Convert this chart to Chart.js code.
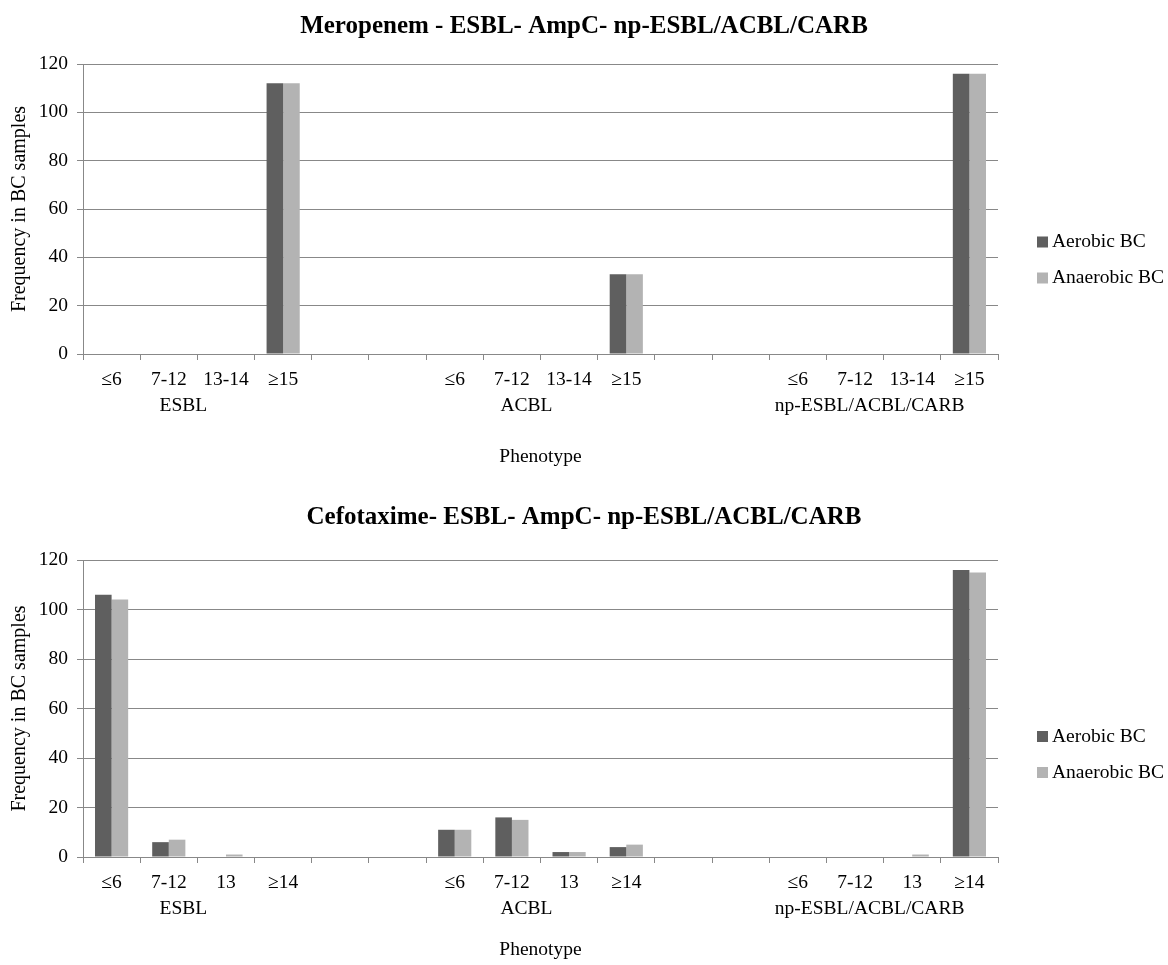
<!DOCTYPE html>
<html>
<head>
<meta charset="utf-8">
<script src="https://cdn.jsdelivr.net/npm/chart.js@4.4.1/dist/chart.umd.min.js"></script>
<style>
  html, body { margin: 0; padding: 0; background: #ffffff; }
  canvas { display: block; }
</style>
</head>
<body>
<canvas id="chartMero" width="1168" height="485"></canvas>
<canvas id="chartCefo" width="1168" height="480"></canvas>
<script>
// Datos (16 posiciones: 3 grupos de 4 + 2 huecos entre grupos)
const meroLabels = ['≤6', '7-12', '13-14', '≥15', '', '', '≤6', '7-12', '13-14', '≥15', '', '', '≤6', '7-12', '13-14', '≥15'];
const meroAerobic = [0, 0, 0, 112, null, null, 0, 0, 0, 33, null, null, 0, 0, 0, 116];
const meroAnaerobic = [0, 0, 0, 112, null, null, 0, 0, 0, 33, null, null, 0, 0, 0, 116];

const cefoLabels = ['≤6', '7-12', '13', '≥14', '', '', '≤6', '7-12', '13', '≥14', '', '', '≤6', '7-12', '13', '≥14'];
const cefoAerobic = [106, 6, 0, 0, null, null, 11, 16, 2, 4, null, null, 0, 0, 0, 116];
const cefoAnaerobic = [104, 7, 1, 0, null, null, 11, 15, 2, 5, null, null, 0, 0, 1, 115];

const groupNames = ['ESBL', 'ACBL', 'np-ESBL/ACBL/CARB'];
const groupFirst = [0, 6, 12];
const groupLast = [3, 9, 15];

const seriesNames = ['Aerobic BC', 'Anaerobic BC'];
const yTicks = [0, 20, 40, 60, 80, 100, 120];

const STYLE = {
  font: "'Liberation Serif', 'Times New Roman', serif",
  size: 19.5,
  text: '#000000',
  grid: '#888888',
  dark: '#5f5f5f',
  light: '#b3b3b3'
};

// Etiquetas de grupo bajo las categorías
const groupLabelPlugin = {
  id: 'groupLabels',
  afterDraw(chart) {
    const x = chart.scales.x;
    const ctx = chart.ctx;
    ctx.save();
    ctx.font = STYLE.size + 'px ' + STYLE.font;
    ctx.fillStyle = STYLE.text;
    ctx.textAlign = 'center';
    ctx.textBaseline = 'middle';
    groupNames.forEach((name, i) => {
      const px = (x.getPixelForValue(groupFirst[i]) + x.getPixelForValue(groupLast[i])) / 2 - 14;
      ctx.fillText(name, px, chart.chartArea.bottom + 52);
    });
    ctx.restore();
  }
};

// Leyenda a la derecha, como en Excel
const sideLegendPlugin = {
  id: 'sideLegend',
  afterDraw(chart, args, opts) {
    const ctx = chart.ctx;
    const area = chart.chartArea;
    const mid = (area.top + area.bottom) / 2 + (opts.shift || 48);
    const gap = opts.gap || 36;
    const sets = chart.data.datasets;
    ctx.save();
    ctx.font = STYLE.size + 'px ' + STYLE.font;
    ctx.textAlign = 'left';
    ctx.textBaseline = 'middle';
    sets.forEach((ds, i) => {
      const y = mid + (i - (sets.length - 1) / 2) * gap;
      ctx.fillStyle = ds.backgroundColor;
      ctx.fillRect(1037, y - 5.5, 11, 11);
      ctx.fillStyle = STYLE.text;
      ctx.fillText(ds.label, 1052, y);
    });
    ctx.restore();
  }
};

function renderPanel(canvasId, title, labels, aerobic, anaerobic, lay) {
  const ctx = document.getElementById(canvasId).getContext('2d');
  return new Chart(ctx, {
    type: 'bar',
    data: {
      labels: labels,
      datasets: [{
        label: seriesNames[0],
        data: aerobic,
        backgroundColor: STYLE.dark,
        borderWidth: 0,
        categoryPercentage: 0.58,
        barPercentage: 1.0
      }, {
        label: seriesNames[1],
        data: anaerobic,
        backgroundColor: STYLE.light,
        borderWidth: 0,
        categoryPercentage: 0.58,
        barPercentage: 1.0
      }]
    },
    options: {
      responsive: false,
      animation: false,
      layout: { padding: 0 },
      plugins: {
        legend: { display: false },
        tooltip: { enabled: false },
        sideLegend: { gap: 36, shift: lay.legendShift },
        title: {
          display: true,
          text: title,
          color: STYLE.text,
          font: { family: STYLE.font, size: 25, weight: 'bold' },
          padding: { top: lay.titleTop, bottom: lay.titleBottom }
        }
      },
      scales: {
        x: {
          offset: true,
          grid: {
            display: true,
            offset: true,
            drawOnChartArea: false,
            drawTicks: true,
            tickLength: 6,
            color: STYLE.grid
          },
          border: { display: true, color: STYLE.grid },
          ticks: {
            color: STYLE.text,
            font: { family: STYLE.font, size: STYLE.size },
            padding: 8,
            maxRotation: 0,
            autoSkip: false
          },
          title: {
            display: true,
            text: 'Phenotype',
            color: STYLE.text,
            font: { family: STYLE.font, size: STYLE.size },
            padding: { top: 0, bottom: lay.xTitleBottom }
          },
          afterFit(scale) { scale.height = lay.xHeight; }
        },
        y: {
          min: 0,
          max: 120,
          afterBuildTicks(scale) { scale.ticks = yTicks.map(v => ({ value: v })); },
          grid: {
            color: STYLE.grid,
            drawTicks: true,
            tickLength: 6
          },
          border: { display: true, color: STYLE.grid },
          ticks: {
            color: STYLE.text,
            font: { family: STYLE.font, size: STYLE.size },
            padding: 9
          },
          title: {
            display: true,
            text: 'Frequency in BC samples',
            color: STYLE.text,
            font: { family: STYLE.font, size: 20 },
            padding: { top: 8, bottom: 0 }
          },
          afterFit(scale) { scale.width = 83; }
        },
        // eje vacío que reserva el espacio de la leyenda
        yPad: {
          type: 'linear',
          position: 'right',
          display: true,
          grid: { display: false },
          border: { display: false },
          ticks: { display: false },
          afterFit(scale) { scale.width = 170; }
        }
      }
    },
    plugins: [groupLabelPlugin, sideLegendPlugin]
  });
}

renderPanel('chartMero', 'Meropenem - ESBL- AmpC- np-ESBL/ACBL/CARB',
  meroLabels, meroAerobic, meroAnaerobic,
  { titleTop: 12, titleBottom: 22, xHeight: 131, xTitleBottom: 16, legendShift: 51 });

renderPanel('chartCefo', 'Cefotaxime- ESBL- AmpC- np-ESBL/ACBL/CARB',
  cefoLabels, cefoAerobic, cefoAnaerobic,
  { titleTop: 18, titleBottom: 27, xHeight: 108, xTitleBottom: 3, legendShift: 46 });
</script>
</body>
</html>
